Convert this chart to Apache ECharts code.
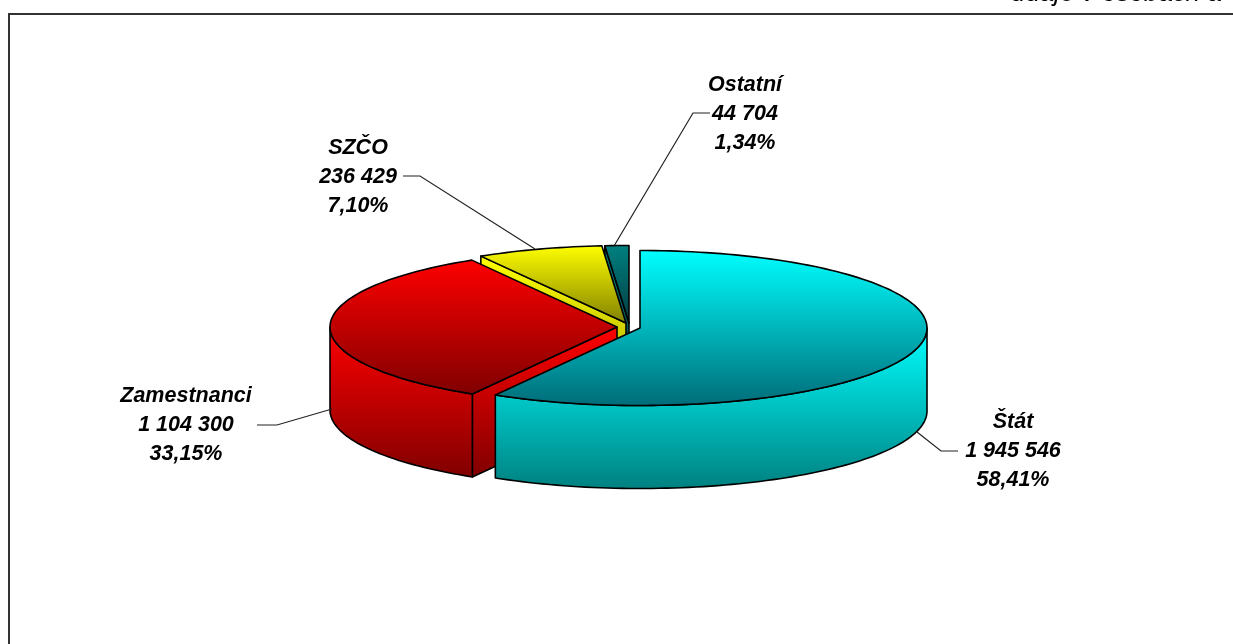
<!DOCTYPE html>
<html><head><meta charset="utf-8">
<style>html,body{margin:0;padding:0;background:#fff}#c{width:1233px;height:644px}</style>
<script src="https://cdn.jsdelivr.net/npm/echarts@6/dist/echarts.min.js"></script>
</head><body><div id="c"></div>
<script>
// DATA
const categories = ['Štát', 'Zamestnanci', 'SZČO', 'Ostatní'];
const values = [1945546, 1104300, 236429, 44704];
const unitNote = 'údaje v osobách a';

// LOOK AND LAYOUT
const RX = 287, RY = 77.5, DEPTH = 83;
const look = [
  {cx: 640, cy: 328, top: ['#00ffff', '#006c78'], side: ['#00ffff', '#008080'],
   text: [1013, 408], leader: [[917, 432], [941, 451], [958, 451]]},
  {cx: 617, cy: 327, top: ['#ff0000', '#800000'], side: ['#ff0000', '#800000'],
   text: [186, 382], leader: [[332, 409], [277, 425], [257, 425]]},
  {cx: 626, cy: 323, top: ['#ffff00', '#808000'], side: ['#ffff00', '#a0a000'],
   text: [358, 134], leader: [[535, 249], [420, 176], [403, 176]]},
  {cx: 629, cy: 323, top: ['#008080', '#003c40'], side: ['#008080', '#004040'],
   text: [745, 71], leader: [[614, 246], [693, 113], [710, 113]]}
];
const total = values.reduce((a, b) => a + b, 0);
const fmtValue = v => String(v).replace(/\B(?=(\d{3})+$)/g, ' ');
const fmtPct = v => (v / total * 100).toFixed(2).replace('.', ',') + '%';
const grad = c => new echarts.graphic.LinearGradient(0, 0, 0, 1, [{offset: 0, color: c[0]}, {offset: 1, color: c[1]}]);
const pt = (l, deg, dy) => {
  const a = deg * Math.PI / 180;
  return [l.cx + RX * Math.sin(a), l.cy - RY * Math.cos(a) + (dy || 0)];
};
const arc = (l, a0, a1, dy) => {
  const n = Math.max(2, Math.ceil(Math.abs(a1 - a0) / 1.5)), out = [];
  for (let i = 0; i <= n; i++) out.push(pt(l, a0 + (a1 - a0) * i / n, dy));
  return out;
};
const edge = {stroke: '#000', lineWidth: 1.6, lineJoin: 'round'};

function renderItem(params, api) {
  const idx = api.value(0), value = api.value(1);
  const l = look[idx];
  let before = 0;
  for (let i = 0; i < idx; i++) before += values[i];
  const a0 = before / total * 360, a1 = (before + value) / total * 360;
  const children = [];
  const poly = (points, fillColors) => children.push({
    type: 'polygon', shape: {points}, style: Object.assign({fill: grad(fillColors)}, edge)
  });
  const apex = [l.cx, l.cy], apexLow = [l.cx, l.cy + DEPTH];
  // cut face that looks toward the viewer (the other one is hidden)
  if (a0 > 180) poly([apex, pt(l, a0), pt(l, a0, DEPTH), apexLow], l.side);
  // outer wall, front half only
  const w0 = Math.max(a0, 90), w1 = Math.min(a1, 270);
  if (w1 > w0) poly(arc(l, w0, w1).concat(arc(l, w1, w0, DEPTH)), l.side);
  // top
  poly([apex].concat(arc(l, a0, a1)), l.top);
  // leader
  children.push({type: 'polyline', shape: {points: l.leader},
    style: {stroke: '#222', lineWidth: 1.2, fill: null}, z2: 5});
  // label
  children.push({type: 'text', z2: 6, style: {
    x: l.text[0], y: l.text[1], align: 'center', verticalAlign: 'top',
    text: categories[idx] + '\n' + fmtValue(value) + '\n' + fmtPct(value),
    font: 'italic bold 21.5px "Liberation Sans", Arial, sans-serif', lineHeight: 29, fill: '#000'
  }});
  return {type: 'group', children};
}

const order = [3, 2, 1, 0]; // painted back to front
const chart = echarts.init(document.getElementById('c'), null, {renderer: 'canvas'});
chart.setOption({
  animation: false,
  backgroundColor: '#fff',
  graphic: [
    {type: 'rect', silent: true, z: -1, shape: {x: 9, y: 14, width: 1300, height: 700},
     style: {fill: '#fff', stroke: '#333', lineWidth: 2}},
    {type: 'text', silent: true, style: {x: 1222, y: -19, align: 'right', verticalAlign: 'top',
      text: unitNote, font: 'italic 26px "Liberation Sans", Arial, sans-serif', fill: '#000'}}
  ],
  series: [{
    type: 'custom', coordinateSystem: 'none', renderItem, silent: true,
    data: order.map(i => [i, values[i]])
  }]
});
</script></body></html>
